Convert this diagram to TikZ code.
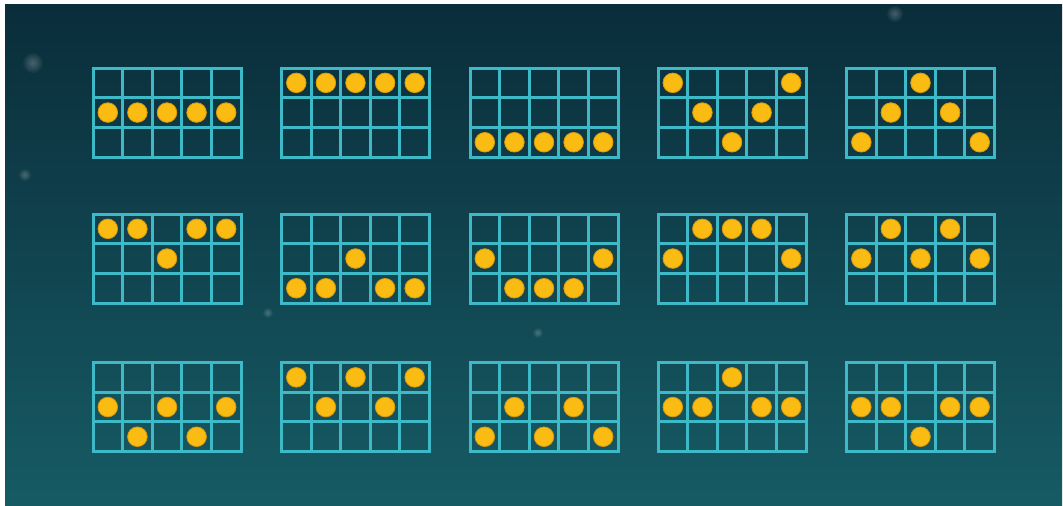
\documentclass[tikz,border=0pt]{standalone}
\usetikzlibrary{backgrounds}

\definecolor{bgtop}{HTML}{0A2D3A}
\definecolor{bgbot}{HTML}{165B64}
\definecolor{linecyan}{HTML}{3DB9C8}
\definecolor{coingold}{HTML}{FABB12}
\definecolor{coinrim}{HTML}{D99A08}

\tikzset{
  cellline/.style={draw=linecyan, line width=3pt},
  coin/.style={fill=coingold, draw=coinrim, line width=0.8pt},
  glow/.style={fill=white, opacity=0.045},
}

% one payline ticket: #1,#2 top left corner, #3 row of the coin in each column
\newcommand{\payline}[3]{%
  \begin{scope}[shift={(#1,#2)}]
    \foreach \r [count=\c] in {#3} { \draw[coin] ({(\c-0.5)*29.6},{(\r-0.5)*29.7}) circle (9.8); }
    \foreach \i in {1,...,4} { \draw[cellline] ({\i*29.6},0) -- ({\i*29.6},89.1); }
    \foreach \j in {1,2} { \draw[cellline] (0,{\j*29.7}) -- (148,{\j*29.7}); }
    \draw[cellline] (0,0) rectangle (148,89.1);
  \end{scope}}

\begin{document}
\begin{tikzpicture}[x=1pt, y=-1pt]
  \useasboundingbox (0,0) rectangle (1063,506);
  \fill[white] (0,0) rectangle (1063,506);
  \shade[top color=bgtop, bottom color=bgbot] (5,4) rectangle (1062,506);
  % faint stars
  \foreach \sx/\sy/\sr in {33/63/10, 25/175/6, 895/14/8, 268/313/5, 538/333/5} {
    \foreach \k in {1,...,6} { \fill[glow] (\sx,\sy) circle ({\sr*\k/6}); }
  }
  % first row
  \payline{93}{68}{2,2,2,2,2}
  \payline{281.5}{68}{1,1,1,1,1}
  \payline{470}{68}{3,3,3,3,3}
  \payline{658}{68}{1,2,3,2,1}
  \payline{846.5}{68}{3,2,1,2,3}
  % second row
  \payline{93}{214}{1,1,2,1,1}
  \payline{281.5}{214}{3,3,2,3,3}
  \payline{470}{214}{2,3,3,3,2}
  \payline{658}{214}{2,1,1,1,2}
  \payline{846.5}{214}{2,1,2,1,2}
  % third row
  \payline{93}{362.5}{2,3,2,3,2}
  \payline{281.5}{362.5}{1,2,1,2,1}
  \payline{470}{362.5}{3,2,3,2,3}
  \payline{658}{362.5}{2,2,1,2,2}
  \payline{846.5}{362.5}{2,2,3,2,2}
\end{tikzpicture}
\end{document}
